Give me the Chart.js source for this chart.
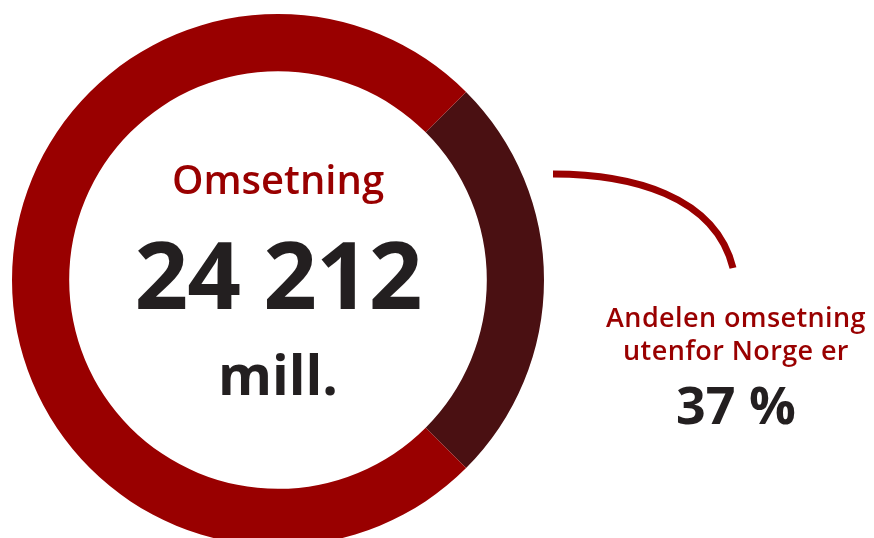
<!DOCTYPE html>
<html>
<head>
<meta charset="utf-8">
<script src="https://cdn.jsdelivr.net/npm/chart.js@4"></script>
<style>
  html, body { margin: 0; padding: 0; background: #fff; overflow: hidden; }
  #wrap { position: relative; width: 874px; height: 546px; }
  #chart { position: absolute; left: 0; top: 0; }
  .t { position: absolute; white-space: nowrap; text-align: center; font-family: "Open Sans", sans-serif; }
  .red { color: #990000; }
  .dark { color: #231f20; }
</style>
</head>
<body>
<div id="wrap">
  <canvas id="chart" width="874" height="546"></canvas>
  <div class="t red" style="left:78px;width:400px;top:159px;font-size:40px;line-height:40px;font-weight:600;">Omsetning</div>
  <div class="t dark" style="left:78px;width:400px;top:226px;font-size:94px;line-height:94px;font-weight:700;letter-spacing:-1px;">24 212</div>
  <div class="t dark" style="left:78px;width:400px;top:346px;font-size:55px;line-height:55px;font-weight:700;">mill.</div>
  <div class="t red" style="left:586px;width:300px;top:303px;font-size:27px;line-height:27px;font-weight:600;letter-spacing:0.4px;">Andelen omsetning</div>
  <div class="t red" style="left:586px;width:300px;top:336px;font-size:27px;line-height:27px;font-weight:600;letter-spacing:0.4px;">utenfor Norge er</div>
  <div class="t dark" style="left:586px;width:300px;top:378px;font-size:52px;line-height:52px;font-weight:700;">37 %</div>
</div>
<script>
// share of revenue
const labels = ['Utenfor Norge', 'Norge'];
const shares = [25, 75];
const colors = ['#4a1012', '#990000'];

// connector curve from the ring towards the label
const connector = {
  id: 'connector',
  afterDraw(chart) {
    const ctx = chart.ctx;
    ctx.save();
    ctx.strokeStyle = '#990000';
    ctx.lineWidth = 7;
    ctx.lineCap = 'butt';
    ctx.beginPath();
    ctx.moveTo(553, 174);
    ctx.bezierCurveTo(630, 174, 715, 195, 733, 268);
    ctx.stroke();
    ctx.restore();
  }
};

new Chart(document.getElementById('chart'), {
  type: 'doughnut',
  data: {
    labels: labels,
    datasets: [{
      data: shares,
      backgroundColor: colors,
      borderWidth: 0
    }]
  },
  options: {
    responsive: false,
    animation: false,
    rotation: 45,
    cutout: '78.5%',
    layout: { padding: { left: 12, right: 330, top: 14, bottom: 0 } },
    plugins: {
      legend: { display: false },
      tooltip: { enabled: false }
    }
  },
  plugins: [connector]
});
</script>
</body>
</html>
